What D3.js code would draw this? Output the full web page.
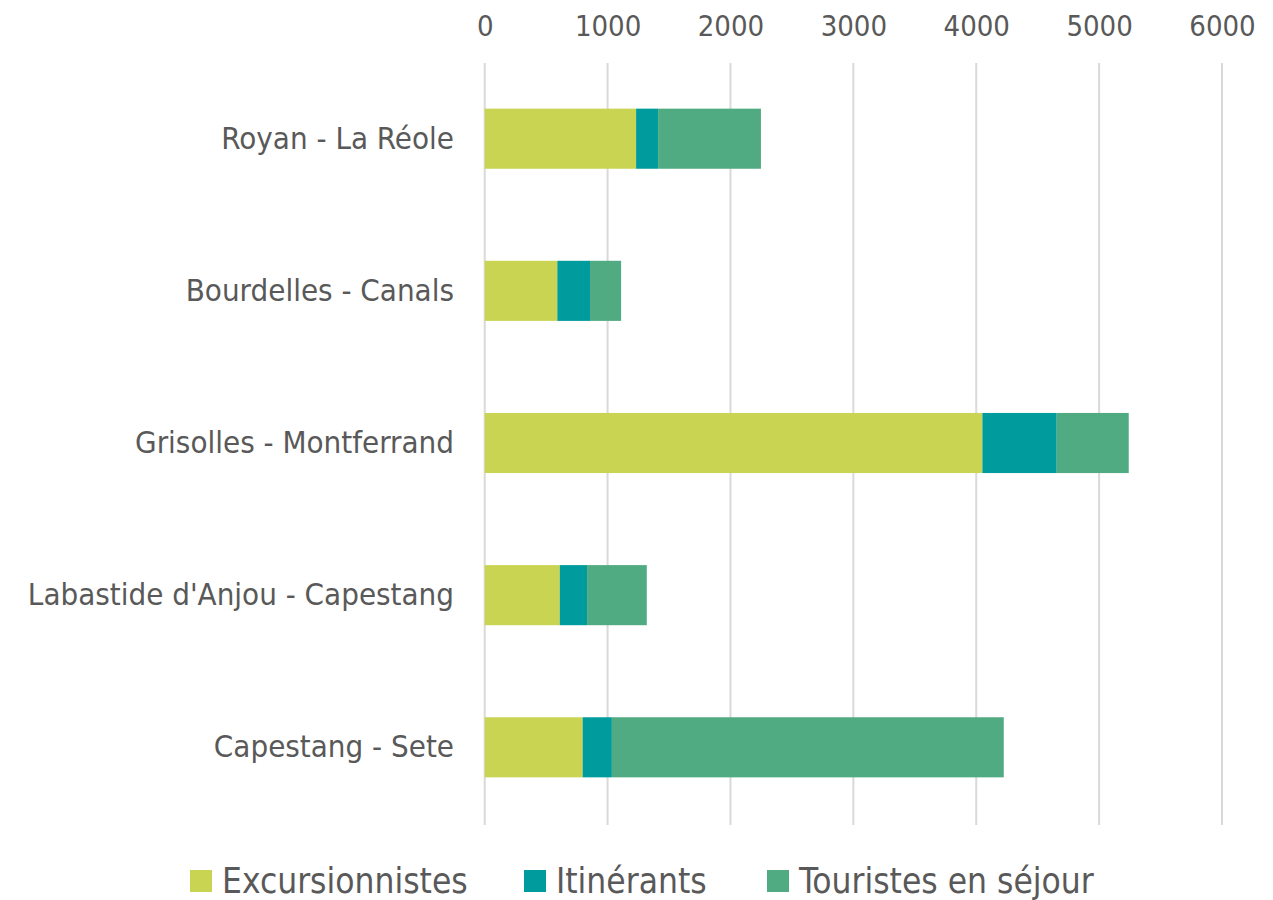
<!DOCTYPE html>
<html><head><meta charset="utf-8">
<script src="https://cdn.jsdelivr.net/npm/d3@7"></script>
<style>
body{margin:0;background:#fff;}
text{font-family:"DejaVu Sans Condensed","DejaVu Sans",sans-serif;fill:#595959;}
</style></head>
<body><svg id="chart" width="1273" height="900"></svg>
<script>
const categories = ["Royan - La Réole","Bourdelles - Canals","Grisolles - Montferrand","Labastide d'Anjou - Capestang","Capestang - Sete"];
const seriesNames = ["Excursionnistes","Itinérants","Touristes en séjour"];
const excursionnistes = [1232, 591, 4050, 611, 797];
const itinerants = [179, 266, 605, 222, 238];
const touristes = [837, 253, 586, 486, 3189];
const tickValues = [0,1000,2000,3000,4000,5000,6000];
const colors = ["#C9D552","#009B9D","#51AB82"];

const svg = d3.select("#chart");
const x = d3.scaleLinear().domain([0,6000]).range([484.7,1222]);
const y = d3.scaleBand().domain(categories).range([63,823]).paddingInner(0.605).paddingOuter(0.3);

// gridlines
svg.append("g").selectAll("line").data(tickValues).join("line")
  .attr("x1",d=>x(d)).attr("x2",d=>x(d)).attr("y1",63).attr("y2",825)
  .attr("stroke","#d9d9d9").attr("stroke-width",2);

// top axis labels
const xAxis = d3.axisTop(x).tickValues(tickValues).tickFormat(d3.format("d")).tickSize(0).tickPadding(0);
const gx = svg.append("g").attr("transform","translate(0,36)").call(xAxis);
gx.select(".domain").remove();
gx.selectAll("text").attr("font-size",29).attr("fill","#595959").style("font-family",null);

// stacked data
const rows = categories.map((c,i)=>({cat:c, Excursionnistes:excursionnistes[i], "Itinérants":itinerants[i], "Touristes en séjour":touristes[i]}));
const stack = d3.stack().keys(seriesNames)(rows);
svg.append("g").selectAll("g").data(stack).join("g")
  .attr("fill",(d,i)=>colors[i])
  .selectAll("rect").data(d=>d).join("rect")
  .attr("x",d=>x(d[0])).attr("width",d=>x(d[1])-x(d[0]))
  .attr("y",d=>y(d.data.cat)).attr("height",y.bandwidth());

// category labels
const yAxis = d3.axisLeft(y).tickSize(0).tickPadding(0);
const gy = svg.append("g").attr("transform","translate(454,0)").call(yAxis);
gy.select(".domain").remove();
gy.selectAll("text").attr("font-size",31).attr("fill","#595959").style("font-family",null);

// legend
const legendX = [190,524,767];
const lg = svg.append("g").selectAll("g").data(seriesNames).join("g")
  .attr("transform",(d,i)=>`translate(${legendX[i]},870)`);
lg.append("rect").attr("width",22).attr("height",22).attr("fill",(d,i)=>colors[i]);
lg.append("text").attr("x",32).attr("y",11).attr("dy","0.33em").attr("font-size",35).text(d=>d);
</script></body></html>
